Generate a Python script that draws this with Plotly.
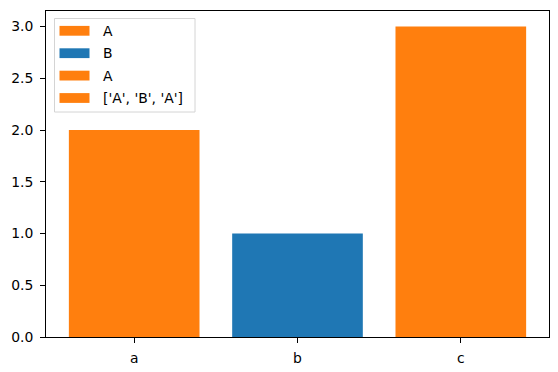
import plotly.graph_objects as go

categories = ["a", "b", "c"]
values = [2, 1, 3]
series_labels = ["A", "B", "A"]
bar_colors = ["#ff7f0e", "#1f77b4", "#ff7f0e"]
legend_labels = ["A", "B", "A", "['A', 'B', 'A']"]
legend_colors = ["#ff7f0e", "#1f77b4", "#ff7f0e", "#ff7f0e"]
y_ticks = [0.0, 0.5, 1.0, 1.5, 2.0, 2.5, 3.0]

# page has an 8px body margin; compensate so the plot area lands where the reference has it
OFF = 8
W, H = 558 - OFF, 372 - OFF
ML, MR, MT, MB = 46 - OFF, 9, 11 - OFF, 35
PW, PH = W - ML - MR, H - MT - MB
PLOT_LEFT = OFF + ML
PLOT_BOTTOM = OFF + H - MB

def px_x(p):
    return (p - PLOT_LEFT) / PW

def px_y(p):
    return (PLOT_BOTTOM - p) / PH

fig = go.Figure()
fig.add_trace(go.Bar(
    x=categories, y=values, width=0.8,
    marker=dict(color=bar_colors, line=dict(width=0)),
    text=series_labels, textposition="none",
    showlegend=False, hoverinfo="x+y+text",
))

font = dict(family="DejaVu Sans", size=13.9, color="#000000")

shapes = []
annotations = []
# legend frame
shapes.append(dict(type="rect", xref="paper", yref="paper",
                   x0=px_x(54.5), x1=px_x(195), y0=px_y(112), y1=px_y(18.5),
                   line=dict(color="#d4d4d4", width=1), fillcolor="rgba(255,255,255,0.8)",
                   layer="above"))
row_y = [30.8, 53.2, 75.6, 98.0]
for lab, col, ry in zip(legend_labels, legend_colors, row_y):
    shapes.append(dict(type="rect", xref="paper", yref="paper",
                       x0=px_x(59.5), x1=px_x(89.5), y0=px_y(ry + 4.9), y1=px_y(ry - 4.9),
                       line=dict(width=0), fillcolor=col, layer="above"))
    annotations.append(dict(xref="paper", yref="paper", x=px_x(101), y=px_y(ry),
                            text=lab, showarrow=False, xanchor="left", yanchor="middle",
                            font=font))

fig.update_layout(
    width=W, height=H,
    margin=dict(l=ML, r=MR, t=MT, b=MB, pad=0),
    paper_bgcolor="white", plot_bgcolor="white",
    font=font,
    bargap=0.2,
    shapes=shapes, annotations=annotations,
    xaxis=dict(type="category", range=[-0.54, 2.54], showgrid=False, zeroline=False,
               showline=True, linecolor="#000000", linewidth=1, mirror=True,
               ticks="outside", ticklen=5, tickwidth=1, tickcolor="#000000",
               tickfont=font, ticklabelstandoff=3),
    yaxis=dict(range=[0, 3.15], tickvals=y_ticks, ticktext=[f"{v:.1f}" for v in y_ticks],
               showgrid=False, zeroline=False,
               showline=True, linecolor="#000000", linewidth=1, mirror=True,
               ticks="outside", ticklen=5, tickwidth=1, tickcolor="#000000",
               tickfont=font, ticklabelstandoff=4),
)

fig.write_html("out.html")
